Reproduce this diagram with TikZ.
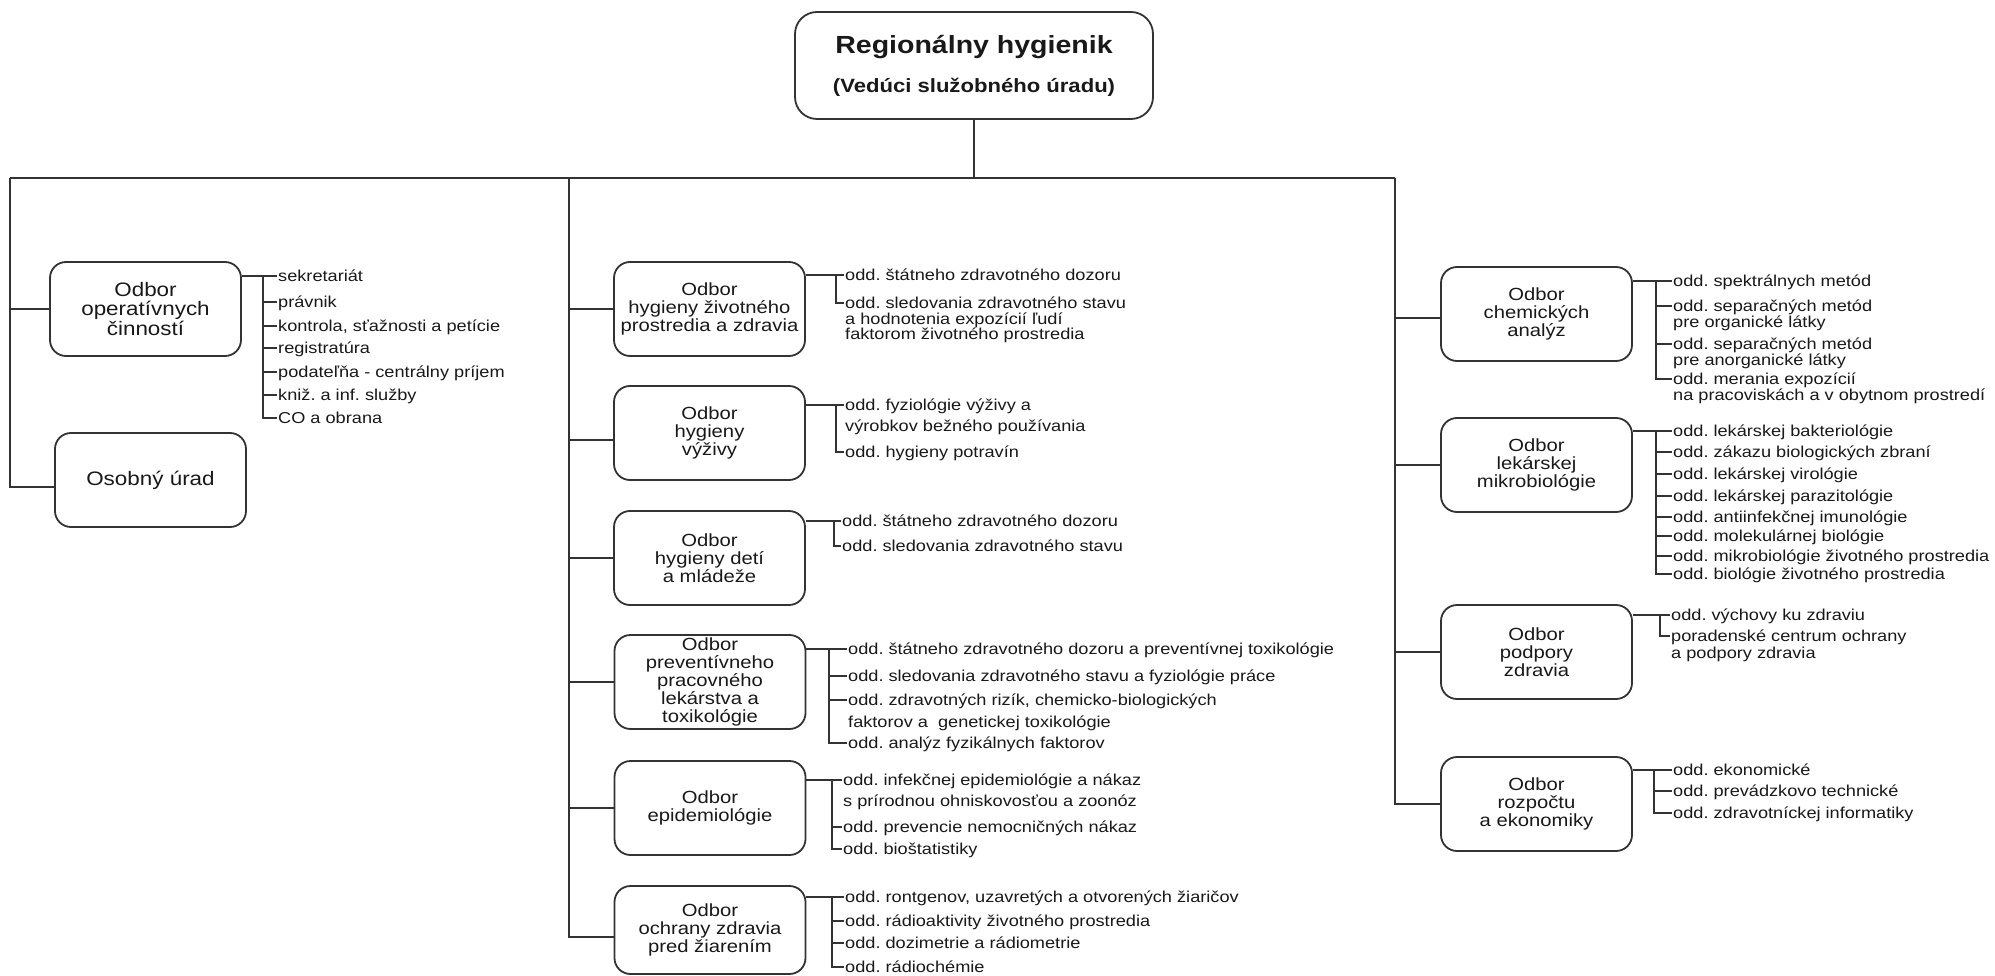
\documentclass[tikz,border=0pt]{standalone}
\usepackage{fontspec}
\setmainfont{Liberation Sans}[FakeStretch=1.15]
\frenchspacing
\tikzset{
  conn/.style={draw=black!80, line width=1.7},
  box/.style={draw=black!80, line width=1.8, rounded corners=16, minimum width=191, minimum height=94, inner sep=0, align=center, text=black!90},
  lbox/.style={box, font=\fontsize{19.5}{19.5}\selectfont},
  mbox/.style={box, font=\fontsize{17.6}{18}\selectfont},
  item/.style={anchor=west, inner xsep=1.5, inner ysep=0, text height=11, text depth=0, text=black!90, font=\fontsize{15.8}{16}\selectfont},
  ttl/.style={inner sep=0, text=black!90},
}
\begin{document}
\begin{tikzpicture}[x=1pt,y=-1pt]
\useasboundingbox[fill=white] (0,0) rectangle (1995,976);

% ---- top box
\node[draw=black!80, line width=1.8, rounded corners=22, minimum width=358, minimum height=107, inner sep=0] (rh) at (974,65.5) {};
\node[ttl, font=\fontsize{24.8}{26}\selectfont\bfseries] (rh1) at (974,47) {Regionálny hygienik};
\node[ttl, font=\fontsize{19.2}{20}\selectfont\bfseries] (rh2) at (974,87) {(Vedúci služobného úradu)};

\coordinate (L0) at (10,178);
\coordinate (M0) at (569,178);
\coordinate (R0) at (1395,178);
\draw[conn] (rh.south) -- (rh.south |- L0);
\draw[conn] (L0) -- (R0);

% ---- boxes
\node[lbox] (op) at (145.5,309) {Odbor\\operatívnych\\činností};
\node[lbox] (ou) at (150.5,480) {Osobný úrad};

\node[mbox] (m1) at (709.5,309) {Odbor\\hygieny životného\\prostredia a zdravia};
\node[mbox] (m2) at (709.5,433) {Odbor\\hygieny\\výživy};
\node[mbox] (m3) at (709.5,558) {Odbor\\hygieny detí\\a mládeže};
\node[mbox] (m4) at (710,682) {Odbor\\preventívneho\\pracovného\\lekárstva a\\toxikológie};
\node[mbox] (m5) at (710,808) {Odbor\\epidemiológie};
\node[mbox, minimum height=88] (m6) at (710,930) {Odbor\\ochrany zdravia\\pred žiarením};

\node[mbox] (r1) at (1536.5,314) {Odbor\\chemických\\analýz};
\node[mbox] (r2) at (1536.5,465) {Odbor\\lekárskej\\mikrobiológie};
\node[mbox] (r3) at (1536.5,652) {Odbor\\podpory\\zdravia};
\node[mbox] (r4) at (1536.5,804) {Odbor\\rozpočtu\\a ekonomiky};

% ---- spines
\coordinate (ouc) at ([yshift=-7]ou.west);
\draw[conn] (L0) |- (ouc);
\draw[conn] (L0 |- op.west) -- (op.west);

\coordinate (m2c) at ([yshift=-7]m2.west);
\coordinate (m6c) at ([yshift=-7]m6.west);
\draw[conn] (M0) |- (m6c);
\draw[conn] (M0 |- m1.west) -- (m1.west);
\draw[conn] (M0 |- m2c) -- (m2c);
\draw[conn] (M0 |- m3.west) -- (m3.west);
\draw[conn] (M0 |- m4.west) -- (m4.west);
\draw[conn] (M0 |- m5.west) -- (m5.west);

\coordinate (r1c) at ([yshift=-4]r1.west);
\draw[conn] (R0) |- (r4.west);
\draw[conn] (R0 |- r1c) -- (r1c);
\draw[conn] (R0 |- r2.west) -- (r2.west);
\draw[conn] (R0 |- r3.west) -- (r3.west);

% ---- items: Odbor operativnych cinnosti
\node[item] (op1) at (276.5,276) {sekretariát};
\node[item] (op2) at (276.5,302) {právnik};
\node[item] (op3) at (276.5,326) {kontrola, sťažnosti a petície};
\node[item] (op4) at (276.5,348) {registratúra};
\node[item] (op5) at (276.5,372) {podateľňa - centrálny príjem};
\node[item] (op6) at (276.5,395) {kniž. a inf. služby};
\node[item] (op7) at (276.5,418) {CO a obrana};
\coordinate (opB) at (263,276);
\draw[conn] (op.east |- op1.west) -- (op1.west);
\draw[conn] (opB) -- (opB |- op7.west) -- (op7.west);
\foreach \i in {2,...,6} \draw[conn] (opB |- op\i.west) -- (op\i.west);

% ---- m1
\node[item] (m1a) at (843.5,275) {odd. štátneho zdravotného dozoru};
\node[item] (m1b) at (843.5,303) {odd. sledovania zdravotného stavu};
\node[item] (m1c) at (843.5,319) {a hodnotenia expozícií ľudí};
\node[item] (m1d) at (843.5,334) {faktorom životného prostredia};
\coordinate (m1B) at (836,275);
\draw[conn] (m1.east |- m1a.west) -- (m1a.west);
\draw[conn] (m1B) -- (m1B |- m1b.west) -- (m1b.west);

% ---- m2
\node[item] (m2a) at (843.5,405) {odd. fyziológie výživy a};
\node[item] (m2b) at (843.5,426) {výrobkov bežného používania};
\node[item] (m2d) at (843.5,452) {odd. hygieny potravín};
\coordinate (m2B) at (836,405);
\draw[conn] (m2.east |- m2a.west) -- (m2a.west);
\draw[conn] (m2B) -- (m2B |- m2d.west) -- (m2d.west);

% ---- m3
\node[item] (m3a) at (840.5,521) {odd. štátneho zdravotného dozoru};
\node[item] (m3b) at (840.5,546) {odd. sledovania zdravotného stavu};
\coordinate (m3B) at (834,521);
\draw[conn] (m3.east |- m3a.west) -- (m3a.west);
\draw[conn] (m3B) -- (m3B |- m3b.west) -- (m3b.west);

% ---- m4
\node[item] (m4a) at (846.5,649) {odd. štátneho zdravotného dozoru a preventívnej toxikológie};
\node[item] (m4b) at (846.5,676) {odd. sledovania zdravotného stavu a fyziológie práce};
\node[item] (m4c) at (846.5,700) {odd. zdravotných rizík, chemicko-biologických};
\node[item] (m4d) at (846.5,722) {faktorov a\ \ genetickej toxikológie};
\node[item] (m4e) at (846.5,743) {odd. analýz fyzikálnych faktorov};
\coordinate (m4B) at (829,649);
\draw[conn] (m4.east |- m4a.west) -- (m4a.west);
\draw[conn] (m4B) -- (m4B |- m4e.west) -- (m4e.west);
\draw[conn] (m4B |- m4b.west) -- (m4b.west);
\draw[conn] (m4B |- m4c.west) -- (m4c.west);

% ---- m5
\node[item] (m5a) at (841.5,780) {odd. infekčnej epidemiológie a nákaz};
\node[item] (m5b) at (841.5,801) {s prírodnou ohniskovosťou a zoonóz};
\node[item] (m5c) at (841.5,827) {odd. prevencie nemocničných nákaz};
\node[item] (m5d) at (841.5,849) {odd. bioštatistiky};
\coordinate (m5B) at (832,780);
\draw[conn] (m5.east |- m5a.west) -- (m5a.west);
\draw[conn] (m5B) -- (m5B |- m5d.west) -- (m5d.west);
\draw[conn] (m5B |- m5c.west) -- (m5c.west);

% ---- m6
\node[item] (m6a) at (843.5,897) {odd. rontgenov, uzavretých a otvorených žiaričov};
\node[item] (m6b) at (843.5,921) {odd. rádioaktivity životného prostredia};
\node[item] (m6e) at (843.5,943) {odd. dozimetrie a rádiometrie};
\node[item] (m6d) at (843.5,967) {odd. rádiochémie};
\coordinate (m6B) at (832,897);
\draw[conn] (m6.east |- m6a.west) -- (m6a.west);
\draw[conn] (m6B) -- (m6B |- m6d.west) -- (m6d.west);
\draw[conn] (m6B |- m6b.west) -- (m6b.west);
\draw[conn] (m6B |- m6e.west) -- (m6e.west);

% ---- r1
\node[item] (r1a) at (1671.5,281) {odd. spektrálnych metód};
\node[item] (r1b) at (1671.5,306) {odd. separačných metód};
\node[item] (r1x) at (1671.5,322) {pre organické látky};
\node[item] (r1d) at (1671.5,344) {odd. separačných metód};
\node[item] (r1e) at (1671.5,360) {pre anorganické látky};
\node[item] (r1f) at (1671.5,379) {odd. merania expozícií};
\node[item] (r1g) at (1671.5,395) {na pracoviskách a v obytnom prostredí};
\coordinate (r1B) at (1656,281);
\draw[conn] (r1.east |- r1a.west) -- (r1a.west);
\draw[conn] (r1B) -- (r1B |- r1f.west) -- (r1f.west);
\draw[conn] (r1B |- r1b.west) -- (r1b.west);
\draw[conn] (r1B |- r1d.west) -- (r1d.west);

% ---- r2
\node[item] (r2a) at (1671.5,431) {odd. lekárskej bakteriológie};
\node[item] (r2b) at (1671.5,452) {odd. zákazu biologických zbraní};
\node[item] (r2x) at (1671.5,474) {odd. lekárskej virológie};
\node[item] (r2d) at (1671.5,496) {odd. lekárskej parazitológie};
\node[item] (r2e) at (1671.5,517) {odd. antiinfekčnej imunológie};
\node[item] (r2f) at (1671.5,536) {odd. molekulárnej biológie};
\node[item] (r2g) at (1671.5,556) {odd. mikrobiológie životného prostredia};
\node[item] (r2h) at (1671.5,574) {odd. biológie životného prostredia};
\coordinate (r2B) at (1656,431);
\draw[conn] (r2.east |- r2a.west) -- (r2a.west);
\draw[conn] (r2B) -- (r2B |- r2h.west) -- (r2h.west);
\foreach \n in {r2b,r2x,r2d,r2e,r2f,r2g} \draw[conn] (r2B |- \n.west) -- (\n.west);

% ---- r3
\node[item] (r3a) at (1669.5,615) {odd. výchovy ku zdraviu};
\node[item] (r3b) at (1669.5,636) {poradenské centrum ochrany};
\node[item] (r3x) at (1669.5,653) {a podpory zdravia};
\coordinate (r3B) at (1660,615);
\draw[conn] (r3.east |- r3a.west) -- (r3a.west);
\draw[conn] (r3B) -- (r3B |- r3b.west) -- (r3b.west);

% ---- r4
\node[item] (r4a) at (1671.5,770) {odd. ekonomické};
\node[item] (r4b) at (1671.5,791) {odd. prevádzkovo technické};
\node[item] (r4x) at (1671.5,813) {odd. zdravotníckej informatiky};
\coordinate (r4B) at (1654,770);
\draw[conn] (r4.east |- r4a.west) -- (r4a.west);
\draw[conn] (r4B) -- (r4B |- r4x.west) -- (r4x.west);
\draw[conn] (r4B |- r4b.west) -- (r4b.west);
\end{tikzpicture}
\end{document}
